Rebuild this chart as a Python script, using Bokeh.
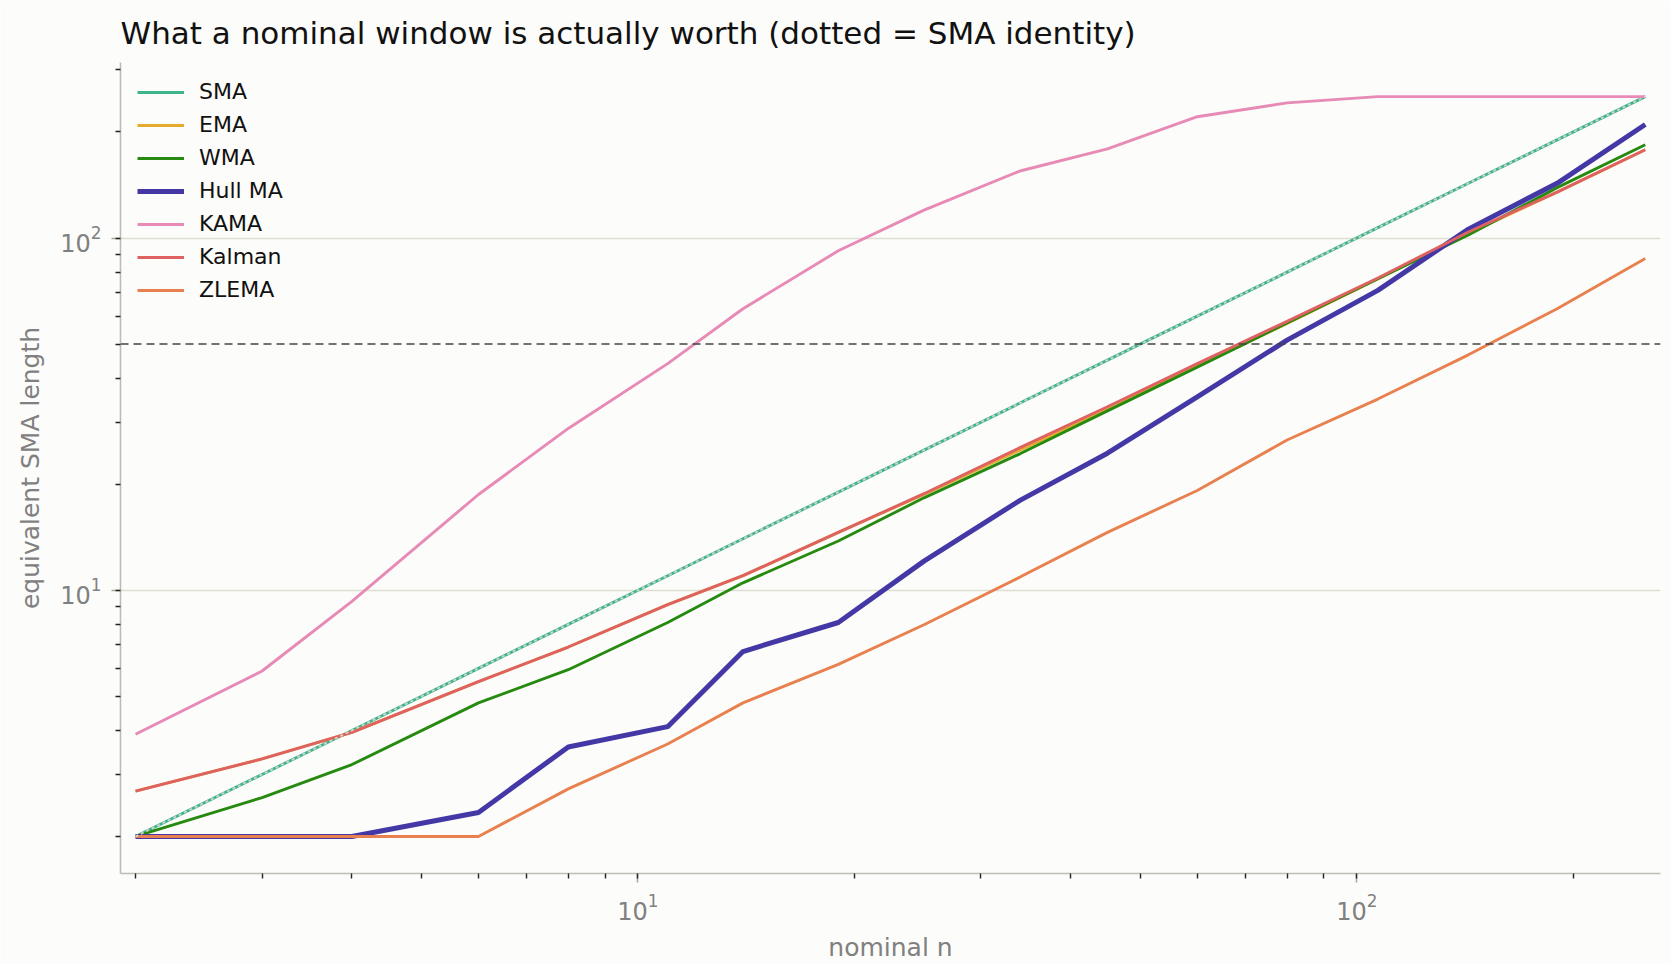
from bokeh.plotting import figure
from bokeh.models import Range1d, Span, Legend, LegendItem
from bokeh.embed import file_html
from bokeh.resources import INLINE

# ---- data ----
nominal = [2, 3, 4, 6, 8, 11, 14, 19, 25, 34, 45, 60, 80, 107, 143, 190, 252]
sma = [2, 3, 4, 6, 8, 11, 14, 19, 25, 34, 45, 60, 80, 107, 143, 190, 252]
ema = [2.69, 3.32, 3.95, 5.5, 6.9, 9.1, 11.0, 14.6, 18.7, 25.0, 32.6, 43.3, 57.2, 76.5, 103, 135, 178]
wma = [2.0, 2.58, 3.2, 4.79, 5.95, 8.1, 10.5, 13.8, 18.3, 24.4, 32.3, 43.0, 57.4, 76.6, 102, 139, 184]
hull = [2.0, 2.0, 2.0, 2.34, 3.59, 4.1, 6.7, 8.1, 12.1, 18.0, 24.5, 35.4, 51.3, 71, 106, 143, 210]
kama = [3.9, 5.9, 9.3, 18.7, 28.8, 44, 63, 92, 120, 155, 179, 221, 242, 252, 252, 252, 252]
kalman = [2.69, 3.32, 3.95, 5.5, 6.9, 9.1, 11.0, 14.6, 18.8, 25.4, 33.2, 44.0, 58.0, 77.0, 104, 135, 178]
zlema = [2.0, 2.0, 2.0, 2.0, 2.73, 3.66, 4.79, 6.16, 7.98, 10.9, 14.6, 19.2, 26.7, 34.9, 46.6, 63, 87.5]
reference_level = 50

series_names = ["SMA", "EMA", "WMA", "Hull MA", "KAMA", "Kalman", "ZLEMA"]
series_values = [sma, ema, wma, hull, kama, kalman, zlema]
series_colors = ["#3DB48C", "#E6AA2C", "#268A10", "#4338A6", "#E78AB6", "#DF6262", "#E8804F"]
series_widths = [2.9, 2.9, 2.9, 5.0, 2.9, 2.9, 2.9]

BG = "#FCFCFA"
FONT = "DejaVu Sans"

p = figure(
    width=1671, height=964,
    x_axis_type="log", y_axis_type="log",
    x_range=Range1d(1.906, 264.6), y_range=Range1d(1.57, 315),
    output_backend="svg", toolbar_location=None,
    background_fill_color=BG, border_fill_color=BG,
    min_border_left=120, min_border_right=11, min_border_top=62, min_border_bottom=91,
)
p.outline_line_color = None

p.title.text = "What a nominal window is actually worth (dotted = SMA identity)"
p.title.text_font = FONT
p.title.text_font_size = "31px"
p.title.text_font_style = "normal"
p.title.text_color = "#111111"
p.title.align = "left"
p.title.standoff = 24

items = []
for name, vals, col, w in zip(series_names, series_values, series_colors, series_widths):
    r = p.line(nominal, vals, line_color=col, line_width=w)
    items.append(LegendItem(label=name, renderers=[r]))

# dotted identity line over SMA
p.line(nominal, sma, line_color="#D6D6CE", line_width=1.9, line_dash="3 3", line_alpha=0.95)

p.add_layout(Span(location=reference_level, dimension="width", line_color="#444444",
                  line_width=1.6, line_dash="8 5"))

legend = Legend(items=items, location="top_left")
legend.label_text_font = FONT
legend.label_text_font_size = "22px"
legend.label_text_color = "#111111"
legend.background_fill_alpha = 0
legend.border_line_color = None
legend.glyph_width = 47
legend.glyph_height = 22
legend.label_height = 22
legend.label_standoff = 15
legend.spacing = 8
legend.margin = 17
legend.padding = 0
p.add_layout(legend)

for ax in (p.xaxis[0], p.yaxis[0]):
    ax.axis_line_color = "#BDBDB5"
    ax.axis_line_width = 1.6
    ax.major_tick_line_color = "#A8A8A0"
    ax.major_tick_line_width = 1.6
    ax.major_tick_out = 9
    ax.major_tick_in = 0
    ax.minor_tick_line_color = "#222222"
    ax.minor_tick_line_width = 1.4
    ax.minor_tick_out = 5
    ax.minor_tick_in = 0
    ax.major_label_text_font = FONT
    ax.major_label_text_font_size = "24px"
    ax.major_label_text_color = "#808080"
    ax.axis_label_text_font = FONT
    ax.axis_label_text_font_size = "25px"
    ax.axis_label_text_font_style = "normal"
    ax.axis_label_text_color = "#808080"

p.xaxis.axis_label = "nominal n"
p.yaxis.axis_label = "equivalent SMA length"
p.xaxis.major_label_standoff = 10
p.xaxis.axis_label_standoff = 10
p.yaxis.major_label_standoff = 10
p.yaxis.axis_label_standoff = 12

p.xgrid.grid_line_color = None
p.ygrid.grid_line_color = "#DEDED3"
p.ygrid.grid_line_width = 1.5

open("out.html", "w").write(file_html(p, INLINE))
